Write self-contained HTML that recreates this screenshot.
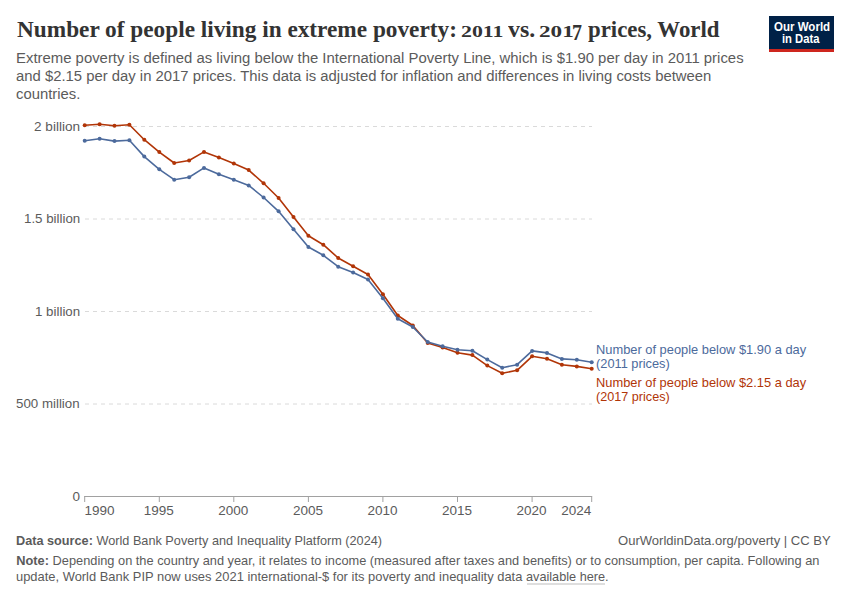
<!DOCTYPE html>
<html><head><meta charset="utf-8"><style>
*{margin:0;padding:0}
html,body{width:850px;height:600px;background:#fff;overflow:hidden}
body{position:relative;font-family:"Liberation Sans",sans-serif}
.tx{position:absolute;white-space:nowrap}
.tx b{font-weight:bold}
u{text-decoration:none;border-bottom:1px solid #d0d0d0}
</style></head><body>
<svg width="850" height="600" style="position:absolute;left:0;top:0">
<rect x="769" y="16" width="65" height="36" fill="#002147"/><rect x="769" y="49" width="65" height="3" fill="#ce261e"/><rect x="527" y="583" width="78" height="2" fill="#dedede"/>
<line x1="85" x2="592" y1="126.5" y2="126.5" stroke="#dadada" stroke-dasharray="4,4" stroke-width="1"/><line x1="85" x2="592" y1="219.0" y2="219.0" stroke="#dadada" stroke-dasharray="4,4" stroke-width="1"/><line x1="85" x2="592" y1="311.5" y2="311.5" stroke="#dadada" stroke-dasharray="4,4" stroke-width="1"/><line x1="85" x2="592" y1="404.0" y2="404.0" stroke="#dadada" stroke-dasharray="4,4" stroke-width="1"/>
<line x1="84.1" x2="592.2" y1="496.5" y2="496.5" stroke="#a1a1a1" stroke-width="1"/>
<line x1="84.7" x2="84.7" y1="496.5" y2="502" stroke="#a1a1a1" stroke-width="1"/><line x1="159.3" x2="159.3" y1="496.5" y2="502" stroke="#a1a1a1" stroke-width="1"/><line x1="233.8" x2="233.8" y1="496.5" y2="502" stroke="#a1a1a1" stroke-width="1"/><line x1="308.4" x2="308.4" y1="496.5" y2="502" stroke="#a1a1a1" stroke-width="1"/><line x1="382.9" x2="382.9" y1="496.5" y2="502" stroke="#a1a1a1" stroke-width="1"/><line x1="457.5" x2="457.5" y1="496.5" y2="502" stroke="#a1a1a1" stroke-width="1"/><line x1="532.1" x2="532.1" y1="496.5" y2="502" stroke="#a1a1a1" stroke-width="1"/><line x1="591.7" x2="591.7" y1="496.5" y2="502" stroke="#a1a1a1" stroke-width="1"/>
<path d="M84.7,125.3 L99.6,124.3 L114.5,125.7 L129.4,124.8 L144.3,139.7 L159.3,152.1 L174.2,163.0 L189.1,160.5 L204.0,151.9 L218.9,157.4 L233.8,163.4 L248.7,170.1 L263.6,183.3 L278.6,198.0 L293.5,217.0 L308.4,235.8 L323.3,244.7 L338.2,258.0 L353.1,266.2 L368.0,274.5 L382.9,294.2 L397.8,315.5 L412.8,325.5 L427.7,343.0 L442.6,347.5 L457.5,352.8 L472.4,355.1 L487.3,365.6 L502.2,373.3 L517.1,370.3 L532.1,356.3 L547.0,358.7 L561.9,364.7 L576.8,366.4 L591.7,368.7" fill="none" stroke="#b13507" stroke-width="1.6" stroke-linejoin="round"/>
<g fill="#b13507"><circle cx="84.7" cy="125.3" r="2.0"/><circle cx="99.6" cy="124.3" r="2.0"/><circle cx="114.5" cy="125.7" r="2.0"/><circle cx="129.4" cy="124.8" r="2.0"/><circle cx="144.3" cy="139.7" r="2.0"/><circle cx="159.3" cy="152.1" r="2.0"/><circle cx="174.2" cy="163.0" r="2.0"/><circle cx="189.1" cy="160.5" r="2.0"/><circle cx="204.0" cy="151.9" r="2.0"/><circle cx="218.9" cy="157.4" r="2.0"/><circle cx="233.8" cy="163.4" r="2.0"/><circle cx="248.7" cy="170.1" r="2.0"/><circle cx="263.6" cy="183.3" r="2.0"/><circle cx="278.6" cy="198.0" r="2.0"/><circle cx="293.5" cy="217.0" r="2.0"/><circle cx="308.4" cy="235.8" r="2.0"/><circle cx="323.3" cy="244.7" r="2.0"/><circle cx="338.2" cy="258.0" r="2.0"/><circle cx="353.1" cy="266.2" r="2.0"/><circle cx="368.0" cy="274.5" r="2.0"/><circle cx="382.9" cy="294.2" r="2.0"/><circle cx="397.8" cy="315.5" r="2.0"/><circle cx="412.8" cy="325.5" r="2.0"/><circle cx="427.7" cy="343.0" r="2.0"/><circle cx="442.6" cy="347.5" r="2.0"/><circle cx="457.5" cy="352.8" r="2.0"/><circle cx="472.4" cy="355.1" r="2.0"/><circle cx="487.3" cy="365.6" r="2.0"/><circle cx="502.2" cy="373.3" r="2.0"/><circle cx="517.1" cy="370.3" r="2.0"/><circle cx="532.1" cy="356.3" r="2.0"/><circle cx="547.0" cy="358.7" r="2.0"/><circle cx="561.9" cy="364.7" r="2.0"/><circle cx="576.8" cy="366.4" r="2.0"/><circle cx="591.7" cy="368.7" r="2.0"/></g>
<path d="M84.7,140.8 L99.6,138.7 L114.5,141.1 L129.4,140.3 L144.3,156.6 L159.3,169.3 L174.2,179.7 L189.1,177.2 L204.0,167.9 L218.9,174.3 L233.8,179.7 L248.7,185.4 L263.6,197.5 L278.6,211.3 L293.5,229.2 L308.4,247.0 L323.3,255.3 L338.2,266.7 L353.1,272.5 L368.0,279.5 L382.9,298.3 L397.8,318.7 L412.8,327.0 L427.7,342.0 L442.6,346.2 L457.5,349.7 L472.4,350.8 L487.3,359.6 L502.2,367.7 L517.1,364.7 L532.1,350.9 L547.0,352.9 L561.9,358.9 L576.8,359.7 L591.7,362.3" fill="none" stroke="#4c6a9c" stroke-width="1.6" stroke-linejoin="round"/>
<g fill="#4c6a9c"><circle cx="84.7" cy="140.8" r="2.0"/><circle cx="99.6" cy="138.7" r="2.0"/><circle cx="114.5" cy="141.1" r="2.0"/><circle cx="129.4" cy="140.3" r="2.0"/><circle cx="144.3" cy="156.6" r="2.0"/><circle cx="159.3" cy="169.3" r="2.0"/><circle cx="174.2" cy="179.7" r="2.0"/><circle cx="189.1" cy="177.2" r="2.0"/><circle cx="204.0" cy="167.9" r="2.0"/><circle cx="218.9" cy="174.3" r="2.0"/><circle cx="233.8" cy="179.7" r="2.0"/><circle cx="248.7" cy="185.4" r="2.0"/><circle cx="263.6" cy="197.5" r="2.0"/><circle cx="278.6" cy="211.3" r="2.0"/><circle cx="293.5" cy="229.2" r="2.0"/><circle cx="308.4" cy="247.0" r="2.0"/><circle cx="323.3" cy="255.3" r="2.0"/><circle cx="338.2" cy="266.7" r="2.0"/><circle cx="353.1" cy="272.5" r="2.0"/><circle cx="368.0" cy="279.5" r="2.0"/><circle cx="382.9" cy="298.3" r="2.0"/><circle cx="397.8" cy="318.7" r="2.0"/><circle cx="412.8" cy="327.0" r="2.0"/><circle cx="427.7" cy="342.0" r="2.0"/><circle cx="442.6" cy="346.2" r="2.0"/><circle cx="457.5" cy="349.7" r="2.0"/><circle cx="472.4" cy="350.8" r="2.0"/><circle cx="487.3" cy="359.6" r="2.0"/><circle cx="502.2" cy="367.7" r="2.0"/><circle cx="517.1" cy="364.7" r="2.0"/><circle cx="532.1" cy="350.9" r="2.0"/><circle cx="547.0" cy="352.9" r="2.0"/><circle cx="561.9" cy="358.9" r="2.0"/><circle cx="576.8" cy="359.7" r="2.0"/><circle cx="591.7" cy="362.3" r="2.0"/></g>
</svg>
<div class="tx" style="left:17.00px;top:17.00px;font-family:'Liberation Serif',serif;font-weight:bold;font-size:24px;line-height:24px;color:#333333;transform:scale(0.9695,1.0);transform-origin:0 0">Number of people living in extreme poverty:</div>
<div class="tx" style="left:460.95px;top:23.00px;font-family:'Liberation Serif',serif;font-weight:bold;font-size:17.5px;line-height:17.5px;color:#333333;transform:scale(1.2469,1.0);transform-origin:0 0">2011</div>
<div class="tx" style="left:508.00px;top:17.00px;font-family:'Liberation Serif',serif;font-weight:bold;font-size:24px;line-height:24px;color:#333333;transform:scale(0.9962,1.0);transform-origin:0 0">vs.</div>
<div class="tx" style="left:539.27px;top:23.00px;font-family:'Liberation Serif',serif;font-weight:bold;font-size:17.5px;line-height:17.5px;color:#333333;transform:scale(1.3250,1.0);transform-origin:0 0">201</div>
<div class="tx" style="left:572.36px;top:21.59px;font-family:'Liberation Serif',serif;font-weight:bold;font-size:17.5px;line-height:17.5px;color:#333333;transform:scale(1.1375,1.27);transform-origin:0 0">7</div>
<div class="tx" style="left:588.20px;top:17.00px;font-family:'Liberation Serif',serif;font-weight:bold;font-size:24px;line-height:24px;color:#333333;transform:scale(0.9514,1.0);transform-origin:0 0">prices, World</div>
<div class="tx" style="left:15.83px;top:50.00px;font-family:'Liberation Sans',sans-serif;font-weight:normal;font-size:15.4px;line-height:15.4px;color:#5b5b5b;transform:scale(0.9679,1.0);transform-origin:0 0">Extreme poverty is defined as living below the International Poverty Line, which is $1.90 per day in 2011 prices</div>
<div class="tx" style="left:15.54px;top:68.00px;font-family:'Liberation Sans',sans-serif;font-weight:normal;font-size:15.4px;line-height:15.4px;color:#5b5b5b;transform:scale(0.9648,1.0);transform-origin:0 0">and $2.15 per day in 2017 prices. This data is adjusted for inflation and differences in living costs between</div>
<div class="tx" style="left:15.84px;top:86.00px;font-family:'Liberation Sans',sans-serif;font-weight:normal;font-size:15.4px;line-height:15.4px;color:#5b5b5b;transform:scale(0.9646,1.0);transform-origin:0 0">countries.</div>
<div class="tx" style="left:773.90px;top:21.00px;font-family:'Liberation Sans',sans-serif;font-weight:bold;font-size:12.3px;line-height:12.3px;color:#ffffff;transform:scale(0.9373,1.0);transform-origin:0 0">Our World</div>
<div class="tx" style="left:782.39px;top:33.00px;font-family:'Liberation Sans',sans-serif;font-weight:bold;font-size:12.3px;line-height:12.3px;color:#ffffff;transform:scale(0.9125,1.0);transform-origin:0 0">in Data</div>
<div class="tx" style="left:72.40px;top:490.00px;font-family:'Liberation Sans',sans-serif;font-weight:normal;font-size:13.5px;line-height:13.5px;color:#5b5b5b">0</div>
<div class="tx" style="left:16.11px;top:397.00px;font-family:'Liberation Sans',sans-serif;font-weight:normal;font-size:13.5px;line-height:13.5px;color:#5b5b5b;transform:scale(0.9857,1.0);transform-origin:0 0">500 million</div>
<div class="tx" style="left:34.81px;top:305.00px;font-family:'Liberation Sans',sans-serif;font-weight:normal;font-size:13.5px;line-height:13.5px;color:#5b5b5b;transform:scale(0.9864,1.0);transform-origin:0 0">1 billion</div>
<div class="tx" style="left:24.01px;top:212.00px;font-family:'Liberation Sans',sans-serif;font-weight:normal;font-size:13.5px;line-height:13.5px;color:#5b5b5b;transform:scale(0.9855,1.0);transform-origin:0 0">1.5 billion</div>
<div class="tx" style="left:33.89px;top:120.00px;font-family:'Liberation Sans',sans-serif;font-weight:normal;font-size:13.5px;line-height:13.5px;color:#5b5b5b;transform:scale(1.0068,1.0);transform-origin:0 0">2 billion</div>
<div class="tx" style="left:595.90px;top:344.00px;font-family:'Liberation Sans',sans-serif;font-weight:normal;font-size:12.9px;line-height:12.9px;color:#4c6a9c;transform:scale(0.9976,1.0);transform-origin:0 0">Number of people below $1.90 a day</div>
<div class="tx" style="left:595.91px;top:358.00px;font-family:'Liberation Sans',sans-serif;font-weight:normal;font-size:12.9px;line-height:12.9px;color:#4c6a9c;transform:scale(0.9932,1.0);transform-origin:0 0">(2011 prices)</div>
<div class="tx" style="left:595.90px;top:377.00px;font-family:'Liberation Sans',sans-serif;font-weight:normal;font-size:12.9px;line-height:12.9px;color:#b13507;transform:scale(0.9976,1.0);transform-origin:0 0">Number of people below $2.15 a day</div>
<div class="tx" style="left:595.92px;top:391.00px;font-family:'Liberation Sans',sans-serif;font-weight:normal;font-size:12.9px;line-height:12.9px;color:#b13507;transform:scale(0.9797,1.0);transform-origin:0 0">(2017 prices)</div>
<div class="tx" style="left:16.31px;top:535.00px;font-family:'Liberation Sans',sans-serif;font-weight:normal;font-size:12.8px;line-height:12.8px;color:#5b5b5b;transform:scale(0.9921,1.0);transform-origin:0 0"><b>Data source:</b> World Bank Poverty and Inequality Platform (2024)</div>
<div class="tx" style="left:617.98px;top:535.00px;font-family:'Liberation Sans',sans-serif;font-weight:normal;font-size:12.8px;line-height:12.8px;color:#5b5b5b;transform:scale(1.0193,1.0);transform-origin:0 0">OurWorldinData.org/poverty | CC BY</div>
<div class="tx" style="left:16.30px;top:555.00px;font-family:'Liberation Sans',sans-serif;font-weight:normal;font-size:12.8px;line-height:12.8px;color:#5b5b5b"><b>Note:</b> Depending on the country and year, it relates to income (measured after taxes and benefits) or to consumption, per capita. Following an</div>
<div class="tx" style="left:16.29px;top:571.00px;font-family:'Liberation Sans',sans-serif;font-weight:normal;font-size:12.8px;line-height:12.8px;color:#5b5b5b;transform:scale(1.0092,1.0);transform-origin:0 0">update, World Bank PIP now uses 2021 international-$ for its poverty and inequality data</div>
<div class="tx" style="left:526.21px;top:571.00px;font-family:'Liberation Sans',sans-serif;font-weight:normal;font-size:12.8px;line-height:12.8px;color:#5b5b5b;transform:scale(0.9926,1.0);transform-origin:0 0">available here.</div>
<div class="tx" style="left:84.40px;top:504.00px;font-family:'Liberation Sans',sans-serif;font-weight:normal;font-size:13.5px;line-height:13.5px;color:#5b5b5b">1990</div>
<div class="tx" style="left:143.76px;top:504.00px;font-family:'Liberation Sans',sans-serif;font-weight:normal;font-size:13.5px;line-height:13.5px;color:#5b5b5b">1995</div>
<div class="tx" style="left:218.32px;top:504.00px;font-family:'Liberation Sans',sans-serif;font-weight:normal;font-size:13.5px;line-height:13.5px;color:#5b5b5b">2000</div>
<div class="tx" style="left:292.88px;top:504.00px;font-family:'Liberation Sans',sans-serif;font-weight:normal;font-size:13.5px;line-height:13.5px;color:#5b5b5b">2005</div>
<div class="tx" style="left:367.44px;top:504.00px;font-family:'Liberation Sans',sans-serif;font-weight:normal;font-size:13.5px;line-height:13.5px;color:#5b5b5b">2010</div>
<div class="tx" style="left:441.99px;top:504.00px;font-family:'Liberation Sans',sans-serif;font-weight:normal;font-size:13.5px;line-height:13.5px;color:#5b5b5b">2015</div>
<div class="tx" style="left:516.55px;top:504.00px;font-family:'Liberation Sans',sans-serif;font-weight:normal;font-size:13.5px;line-height:13.5px;color:#5b5b5b">2020</div>
<div class="tx" style="left:561.20px;top:504.00px;font-family:'Liberation Sans',sans-serif;font-weight:normal;font-size:13.5px;line-height:13.5px;color:#5b5b5b">2024</div>
</body></html>
